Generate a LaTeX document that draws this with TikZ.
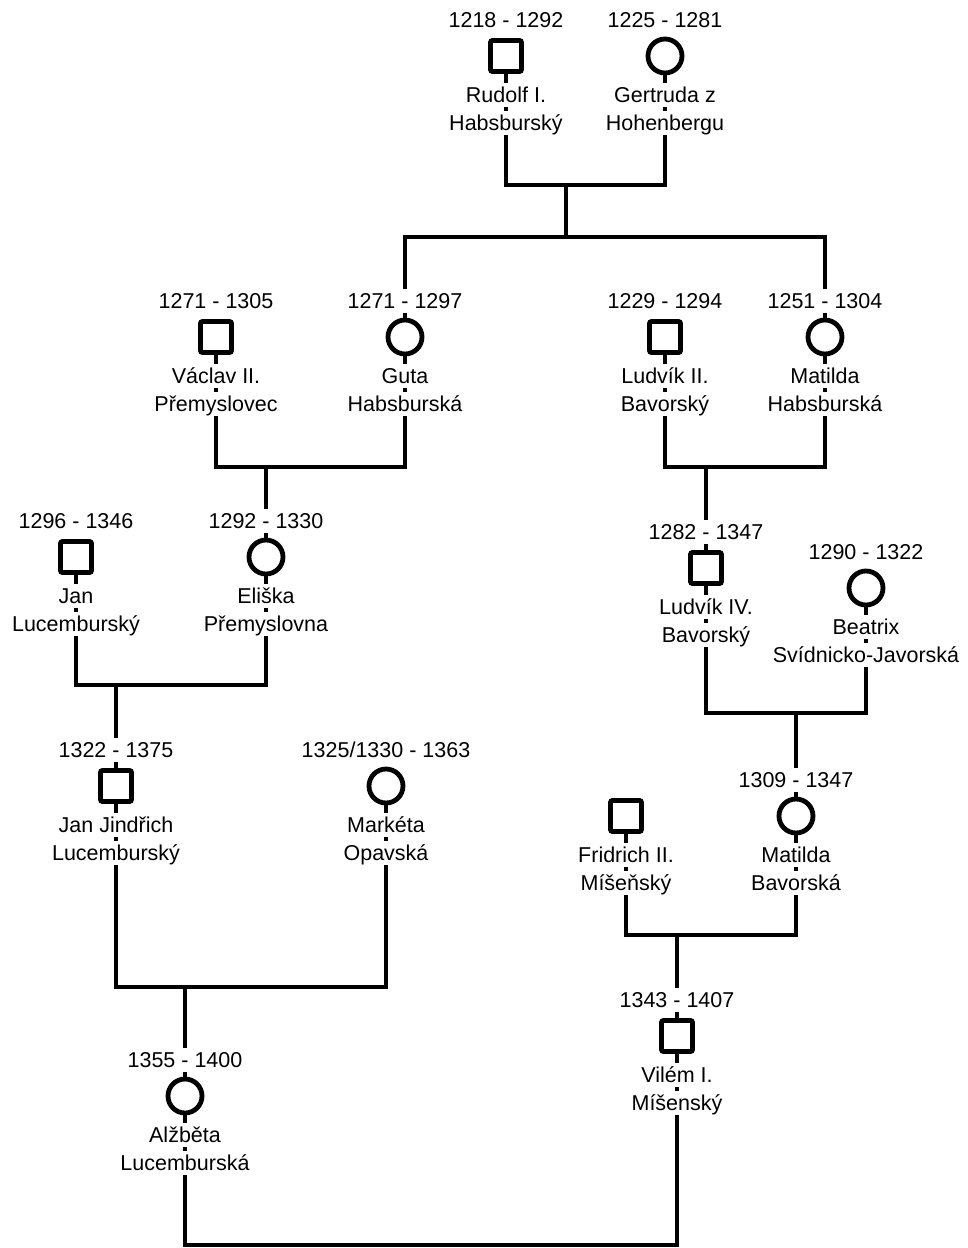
\documentclass[tikz,border=0pt]{standalone}
\usepackage{fontspec}
\setmainfont{Liberation Sans}
\usepackage{tikz}
\usetikzlibrary{
    positioning,
    backgrounds
}

\begin{document}
\begin{tikzpicture}[
    x=1pt, y=-1pt,
    font=\fontsize{21.5}{28}\selectfont,
    male/.style={
    	draw, fill=white,
    	line width=4.8pt,
    	rounded corners=2pt,
    	minimum size=31pt, inner sep=0pt
    }, female/.style={
    	draw, fill=white, circle,
    	line width=4.8pt,
    	minimum size=34pt, inner sep=0pt
    }, lbl/.style={
    	fill=white, inner sep=0pt,
    	text height=19.5pt, text depth=4.5pt
    }, bond/.style={
    	line width=4.8pt
    }]
    \useasboundingbox (0,0) rectangle (968,1248);

    % generation 1
    \node[lbl] (rudolf-d) at (506,20) {1218 - 1292};
    \node[male] (rudolf-s) at (506,56) {};
    \node[lbl] (rudolf-n1) at (506,95) {Rudolf I.};
    \node[lbl, below=4pt of rudolf-n1] (rudolf-n2) {Habsburský};

    \node[lbl] (gertruda-d) at (665,20) {1225 - 1281};
    \node[female] (gertruda-s) at (665,56) {};
    \node[lbl] (gertruda-n1) at (665,95) {Gertruda z};
    \node[lbl, below=4pt of gertruda-n1] (gertruda-n2) {Hohenbergu};

    \coordinate (rudolf-gertruda) at (566,185);
    \coordinate (habsburg-kids) at (566,237);

    % generation 2
    \node[lbl] (vaclav-d) at (216,301) {1271 - 1305};
    \node[male] (vaclav-s) at (216,337) {};
    \node[lbl] (vaclav-n1) at (216,376) {Václav II.};
    \node[lbl, below=4pt of vaclav-n1] (vaclav-n2) {Přemyslovec};

    \node[lbl] (guta-d) at (405,301) {1271 - 1297};
    \node[female] (guta-s) at (405,337) {};
    \node[lbl] (guta-n1) at (405,376) {Guta};
    \node[lbl, below=4pt of guta-n1] (guta-n2) {Habsburská};

    \node[lbl] (ludvik2-d) at (665,301) {1229 - 1294};
    \node[male] (ludvik2-s) at (665,337) {};
    \node[lbl] (ludvik2-n1) at (665,376) {Ludvík II.};
    \node[lbl, below=4pt of ludvik2-n1] (ludvik2-n2) {Bavorský};

    \node[lbl] (matildah-d) at (825,301) {1251 - 1304};
    \node[female] (matildah-s) at (825,337) {};
    \node[lbl] (matildah-n1) at (825,376) {Matilda};
    \node[lbl, below=4pt of matildah-n1] (matildah-n2) {Habsburská};

    \coordinate (vaclav-guta) at (266,467);
    \coordinate (ludvik2-matildah) at (706,467);

    % generation 3
    \node[lbl] (jan-d) at (76,521) {1296 - 1346};
    \node[male] (jan-s) at (76,557) {};
    \node[lbl] (jan-n1) at (76,596) {Jan};
    \node[lbl, below=4pt of jan-n1] (jan-n2) {Lucemburský};

    \node[lbl] (eliska-d) at (266,521) {1292 - 1330};
    \node[female] (eliska-s) at (266,557) {};
    \node[lbl] (eliska-n1) at (266,596) {Eliška};
    \node[lbl, below=4pt of eliska-n1] (eliska-n2) {Přemyslovna};

    \node[lbl] (ludvik4-d) at (706,532) {1282 - 1347};
    \node[male] (ludvik4-s) at (706,568) {};
    \node[lbl] (ludvik4-n1) at (706,607) {Ludvík IV.};
    \node[lbl, below=4pt of ludvik4-n1] (ludvik4-n2) {Bavorský};

    \node[lbl] (beatrix-d) at (866,552) {1290 - 1322};
    \node[female] (beatrix-s) at (866,588) {};
    \node[lbl] (beatrix-n1) at (866,627) {Beatrix};
    \node[lbl, below=4pt of beatrix-n1] (beatrix-n2) {Svídnicko-Javorská};

    \coordinate (jan-eliska) at (116,685);
    \coordinate (ludvik4-beatrix) at (796,713);

    % generation 4
    \node[lbl] (janjindrich-d) at (116,750) {1322 - 1375};
    \node[male] (janjindrich-s) at (116,786) {};
    \node[lbl] (janjindrich-n1) at (116,825) {Jan Jindřich};
    \node[lbl, below=4pt of janjindrich-n1] (janjindrich-n2) {Lucemburský};

    \node[lbl] (marketa-d) at (386,750) {1325/1330 - 1363};
    \node[female] (marketa-s) at (386,786) {};
    \node[lbl] (marketa-n1) at (386,825) {Markéta};
    \node[lbl, below=4pt of marketa-n1] (marketa-n2) {Opavská};

    \node[male] (fridrich-s) at (626,816) {};
    \node[lbl] (fridrich-n1) at (626,855) {Fridrich II.};
    \node[lbl, below=4pt of fridrich-n1] (fridrich-n2) {Míšeňský};

    \node[lbl] (matildab-d) at (796,780) {1309 - 1347};
    \node[female] (matildab-s) at (796,816) {};
    \node[lbl] (matildab-n1) at (796,855) {Matilda};
    \node[lbl, below=4pt of matildab-n1] (matildab-n2) {Bavorská};

    \coordinate (janjindrich-marketa) at (185,987);
    \coordinate (fridrich-matildab) at (677,935);

    % generation 5
    \node[lbl] (vilem-d) at (677,1000) {1343 - 1407};
    \node[male] (vilem-s) at (677,1036) {};
    \node[lbl] (vilem-n1) at (677,1075) {Vilém I.};
    \node[lbl, below=4pt of vilem-n1] (vilem-n2) {Míšenský};

    \node[lbl] (alzbeta-d) at (185,1060) {1355 - 1400};
    \node[female] (alzbeta-s) at (185,1096) {};
    \node[lbl] (alzbeta-n1) at (185,1135) {Alžběta};
    \node[lbl, below=4pt of alzbeta-n1] (alzbeta-n2) {Lucemburská};

    \coordinate (alzbeta-vilem) at (431,1245);

    % lines behind everything
    \begin{scope}[on background layer]
    \draw[bond] (rudolf-s) |- (rudolf-gertruda) -| (gertruda-s);
    \draw[bond] (rudolf-gertruda) -- (habsburg-kids);
    \draw[bond] (guta-s) |- (habsburg-kids) -| (matildah-s);

    \draw[bond] (vaclav-s) |- (vaclav-guta) -| (guta-s);
    \draw[bond] (vaclav-guta) -- (eliska-s);
    \draw[bond] (ludvik2-s) |- (ludvik2-matildah) -| (matildah-s);
    \draw[bond] (ludvik2-matildah) -- (ludvik4-s);

    \draw[bond] (jan-s) |- (jan-eliska) -| (eliska-s);
    \draw[bond] (jan-eliska) -- (janjindrich-s);
    \draw[bond] (ludvik4-s) |- (ludvik4-beatrix) -| (beatrix-s);
    \draw[bond] (ludvik4-beatrix) -- (matildab-s);

    \draw[bond] (janjindrich-s) |- (janjindrich-marketa) -| (marketa-s);
    \draw[bond] (janjindrich-marketa) -- (alzbeta-s);
    \draw[bond] (fridrich-s) |- (fridrich-matildab) -| (matildab-s);
    \draw[bond] (fridrich-matildab) -- (vilem-s);

    \draw[bond] (alzbeta-s) |- (alzbeta-vilem) -| (vilem-s);
    \end{scope}

\end{tikzpicture}
\end{document}
